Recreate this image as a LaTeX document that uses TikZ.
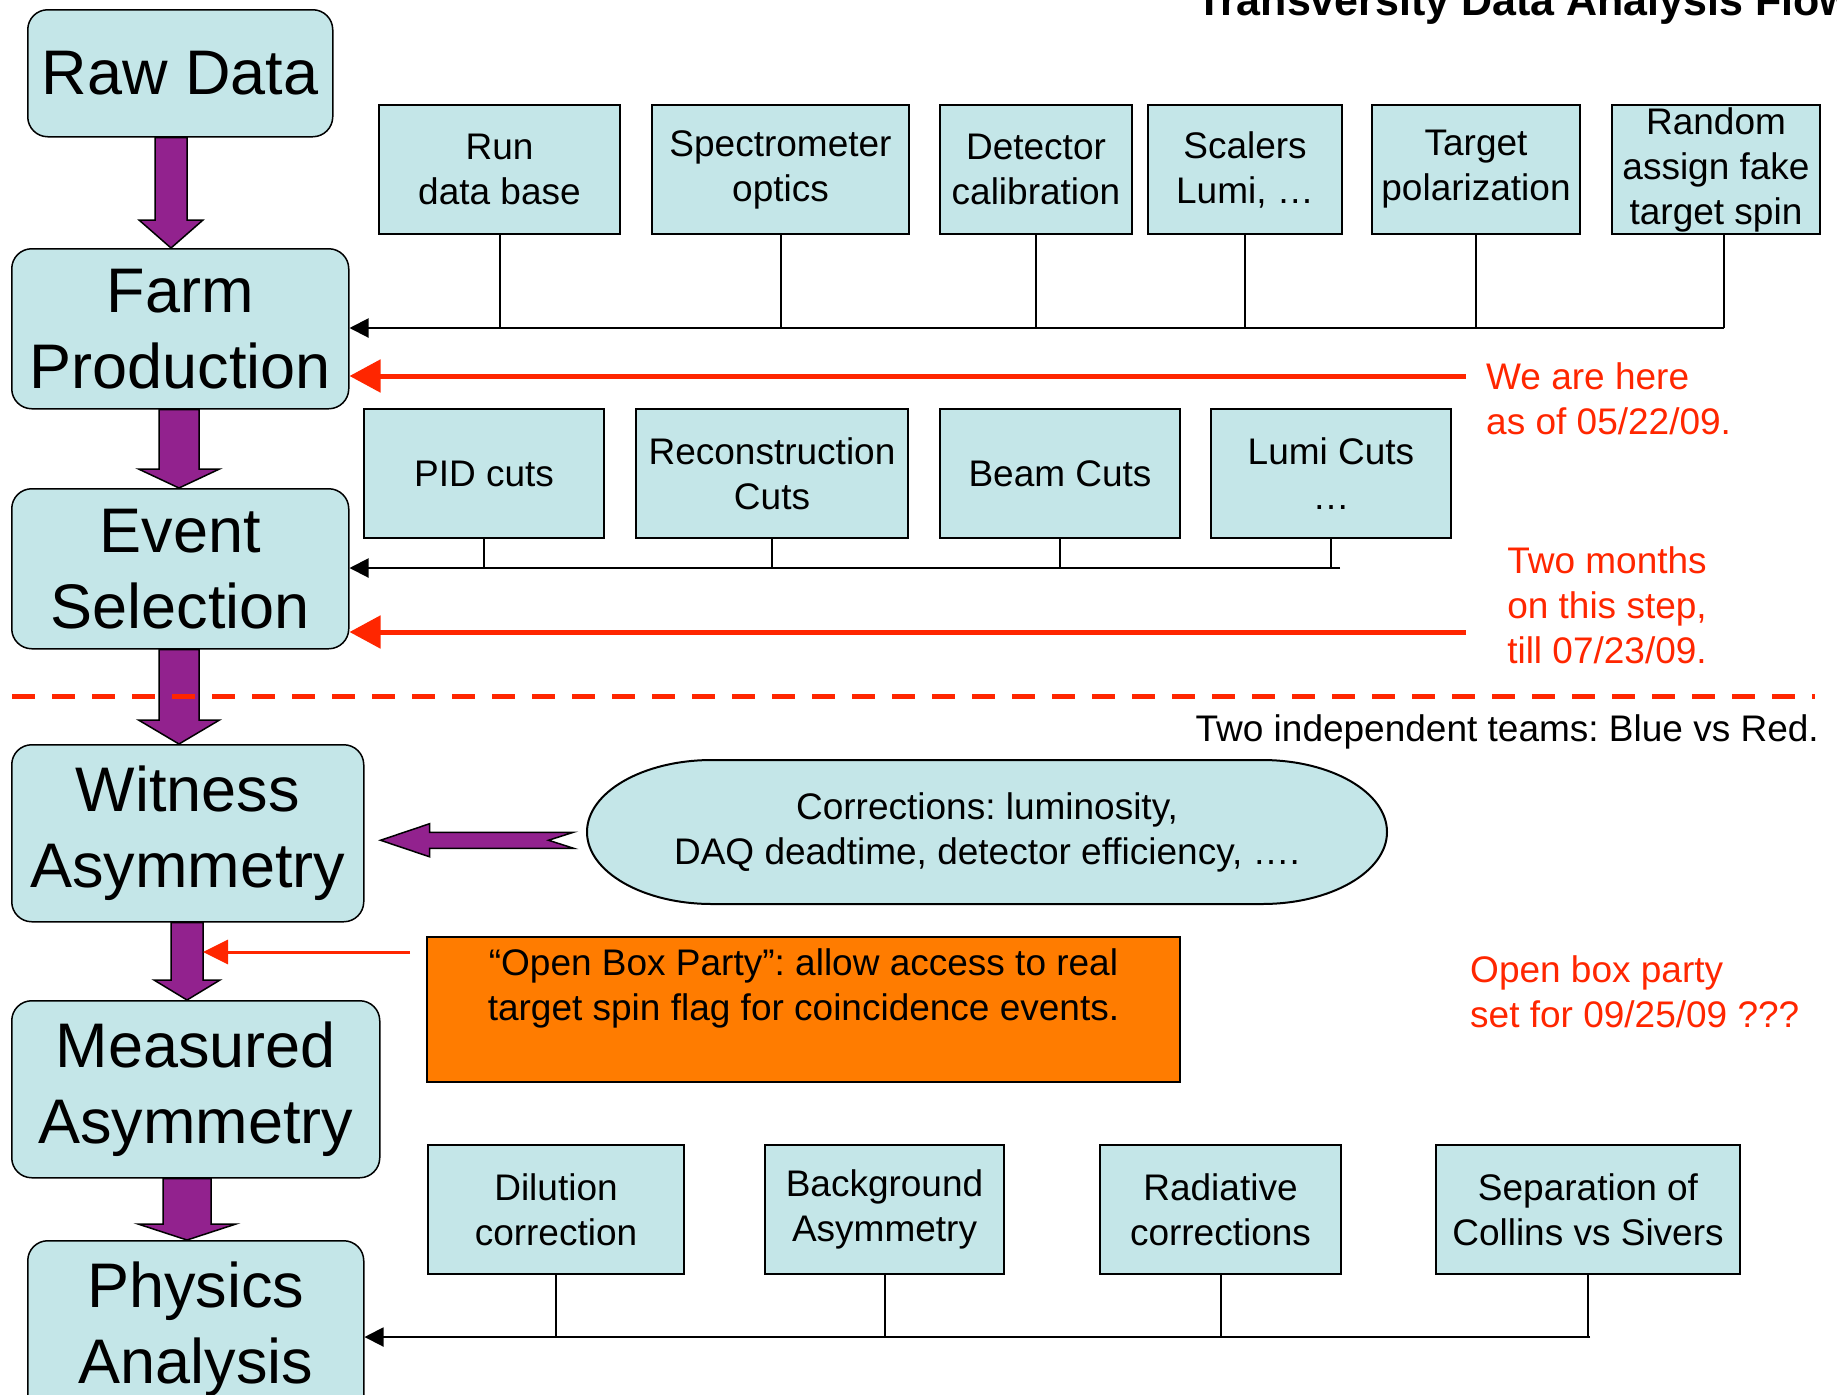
\documentclass[tikz,border=0pt]{standalone}
\usepackage{fontspec}
\setmainfont{Liberation Sans}
\usetikzlibrary{positioning, calc, arrows.meta}

\definecolor{boxcyan}{RGB}{196,230,232}
\definecolor{flowpurple}{RGB}{146,34,142}
\definecolor{partyorange}{RGB}{255,124,0}
\definecolor{notered}{RGB}{255,38,0}

% fat vertical arrow: x, from node, to node, shaft half width, head half width, head length
\newcommand{\flowarrow}[6]{%
	\path (#1,0) coordinate (fa-x);
	\draw[flowarr] ($(fa-x |- #2.south)+(-#4pt,0pt)$) -- ($(fa-x |- #3.north)+(-#4pt,#6pt)$) -- ($(fa-x |- #3.north)+(-#5pt,#6pt)$) -- (fa-x |- #3.north) -- ($(fa-x |- #3.north)+(#5pt,#6pt)$) -- ($(fa-x |- #3.north)+(#4pt,#6pt)$) -- ($(fa-x |- #2.south)+(#4pt,0pt)$) -- cycle;}

\begin{document}
\frenchspacing
\begin{tikzpicture}[x=1pt, y=-1pt,
		stage/.style={rectangle, draw, line width=1.5pt, rounded corners=20pt, fill=boxcyan, align=center, inner sep=0pt, font=\fontsize{63}{76}\selectfont},
		task/.style={rectangle, draw, line width=2pt, fill=boxcyan, align=center, inner sep=0pt, minimum height=129pt, font=\fontsize{37}{45}\selectfont},
		plain/.style={align=center, inner sep=0pt, font=\fontsize{37}{45}\selectfont},
		note/.style={text=notered, align=left, inner sep=0pt, font=\fontsize{37}{45}\selectfont},
		flowarr/.style={draw=black, fill=flowpurple, line width=1.5pt},
		busline/.style={line width=2pt},
		feed/.style={line width=2pt, -{Triangle[length=19pt, width=19pt]}},
		status/.style={draw=notered, line width=5pt, -{Triangle[length=31pt, width=32pt]}},
		partynote/.style={draw=notered, line width=3pt, -{Triangle[length=25pt, width=24pt]}},
		teamline/.style={draw=notered, line width=5pt, dash pattern=on 23pt off 17pt},
		>=LaTeX
	]

	\useasboundingbox (0,0) rectangle (1837,1395);

	\node[anchor=base west, inner sep=0pt, font=\fontsize{43}{52}\selectfont\bfseries] (title) at (1196,15) {Transversity Data Analysis Flow};

	\node[stage, anchor=north west, minimum width=305pt, minimum height=127pt] (raw) at (27,9) {Raw Data};
	\node[stage, anchor=north west, minimum width=337pt, minimum height=160pt] (farm) at (11,248) {Farm\\Production};
	\node[stage, anchor=north west, minimum width=337pt, minimum height=160pt] (event) at (11,488) {Event\\Selection};
	\node[stage, anchor=north west, minimum width=352pt, minimum height=177pt] (witness) at (11,744) {Witness\\Asymmetry};
	\node[stage, anchor=north west, minimum width=368pt, minimum height=177pt] (measured) at (11,1000) {Measured\\Asymmetry};
	\node[stage, anchor=north west, minimum width=336pt, minimum height=177pt] (physics) at (27,1240) {Physics\\Analysis};

	\node[task, anchor=north west, minimum width=241pt] (run) at (378,104) {Run\\data base};
	\node[task, right=30pt of run, minimum width=257pt] (spec) {Spectrometer\\optics};
	\node[task, right=29pt of spec, minimum width=192pt] (det) {Detector\\calibration};
	\node[task, right=14pt of det, minimum width=194pt] (scal) {Scalers\\Lumi, …};
	\node[task, right=28pt of scal, minimum width=208pt] (targ) {Target\\polarization};
	\node[task, right=30pt of targ, minimum width=208pt] (rand) {Random\\assign fake\\target spin};

	\node[task, anchor=north west, minimum width=240pt] (pid) at (363,408) {PID cuts};
	\node[task, right=30pt of pid, minimum width=272pt] (reco) {Reconstruction\\Cuts};
	\node[task, right=30pt of reco, minimum width=240pt] (beam) {Beam Cuts};
	\node[task, right=29pt of beam, minimum width=240pt] (lumi) {Lumi Cuts\\…};

	\node[task, anchor=north west, minimum width=256pt] (dil) at (427,1144) {Dilution\\correction};
	\node[task, right=79pt of dil, minimum width=239pt] (bkg) {Background\\Asymmetry};
	\node[task, right=94pt of bkg, minimum width=241pt] (rad) {Radiative\\corrections};
	\node[task, right=93pt of rad, minimum width=304pt] (sep) {Separation of\\Collins vs Sivers};

	% corrections terminator
	\coordinate (corr) at (987,832);
	\draw[line width=2pt, fill=boxcyan] ($(corr)+(-275pt,72pt)$) -- ($(corr)+(275pt,72pt)$) arc[start angle=90, end angle=-90, x radius=125pt, y radius=72pt] -- ($(corr)+(-275pt,-72pt)$) arc[start angle=270, end angle=90, x radius=125pt, y radius=72pt] -- cycle;
	\node[plain] (corrtext) at (corr) {Corrections: luminosity,\\DAQ deadtime, detector efficiency, ….};

	\node[draw, line width=2pt, fill=partyorange, anchor=north west, minimum width=753pt, minimum height=145pt, inner sep=0pt] (obox) at (426,936) {};
	\node[plain, below=12pt of obox.north] (otext) {“Open Box Party”: allow access to real\\target spin flag for coincidence events.};

	\node[note, anchor=north west] (here) at (1486,362) {We are here\\as of 05/22/09.};
	\node[note, align=center, anchor=north] (months) at (1607,546) {Two months\\on this step,\\till 07/23/09.};
	\node[note, anchor=north west] (party) at (1470,955) {Open box party\\set for 09/25/09 ???};
	\node[plain, anchor=base east] (teams) at (1819,741) {Two independent teams: Blue vs Red.};

	% feeding lines
	\coordinate (feedA) at (1724,328);
	\coordinate (feedB) at (1340,568);
	\coordinate (feedC) at (1590,1337);

	\foreach \i in {run, spec, det, scal, targ}
		\draw[busline] (\i.south) -- (\i.south |- feedA);
	\draw[busline] (rand.south -| feedA) -- (feedA);
	\draw[feed] (feedA) -- (feedA -| farm.east);

	\foreach \i in {pid, reco, beam, lumi}
		\draw[busline] (\i.south) -- (\i.south |- feedB);
	\draw[feed] (feedB) -- (feedB -| event.east);

	\foreach \i in {dil, bkg, rad, sep}
		\draw[busline] (\i.south) -- (\i.south |- feedC);
	\draw[feed] (feedC) -- (feedC -| physics.east);

	% main flow
	\flowarrow{171}{raw}{farm}{16}{32}{28}
	\flowarrow{179}{farm}{event}{20}{40.5}{19}
	\flowarrow{179}{event}{witness}{20}{40.5}{24}
	\flowarrow{187}{witness}{measured}{16}{33}{20}
	\flowarrow{187}{measured}{physics}{24}{49}{16}

	\path ([xshift=16pt, yshift=-7pt]witness.east) coordinate (ltip);
	\draw[flowarr] (ltip) -- ++(49pt,16.5pt) -- ++(0pt,-8.5pt) -- ++(144pt,0pt) -- ++(-25pt,-8pt) -- ++(25pt,-8pt) -- ++(-144pt,0pt) -- ++(0pt,-8.5pt) -- cycle;

	\coordinate (hereA) at (1466,376);
	\coordinate (hereB) at (1466,632);
	\draw[status] (hereA) -- (hereA -| farm.east);
	\draw[status] (hereB) -- (hereB -| event.east);

	\coordinate (partytip) at (203,952);
	\draw[partynote] ([shift={(-16pt,-16pt)}]obox.north west) -- (partytip);

	\draw[teamline] (12,696) -- (1815,696);

\end{tikzpicture}
\end{document}
